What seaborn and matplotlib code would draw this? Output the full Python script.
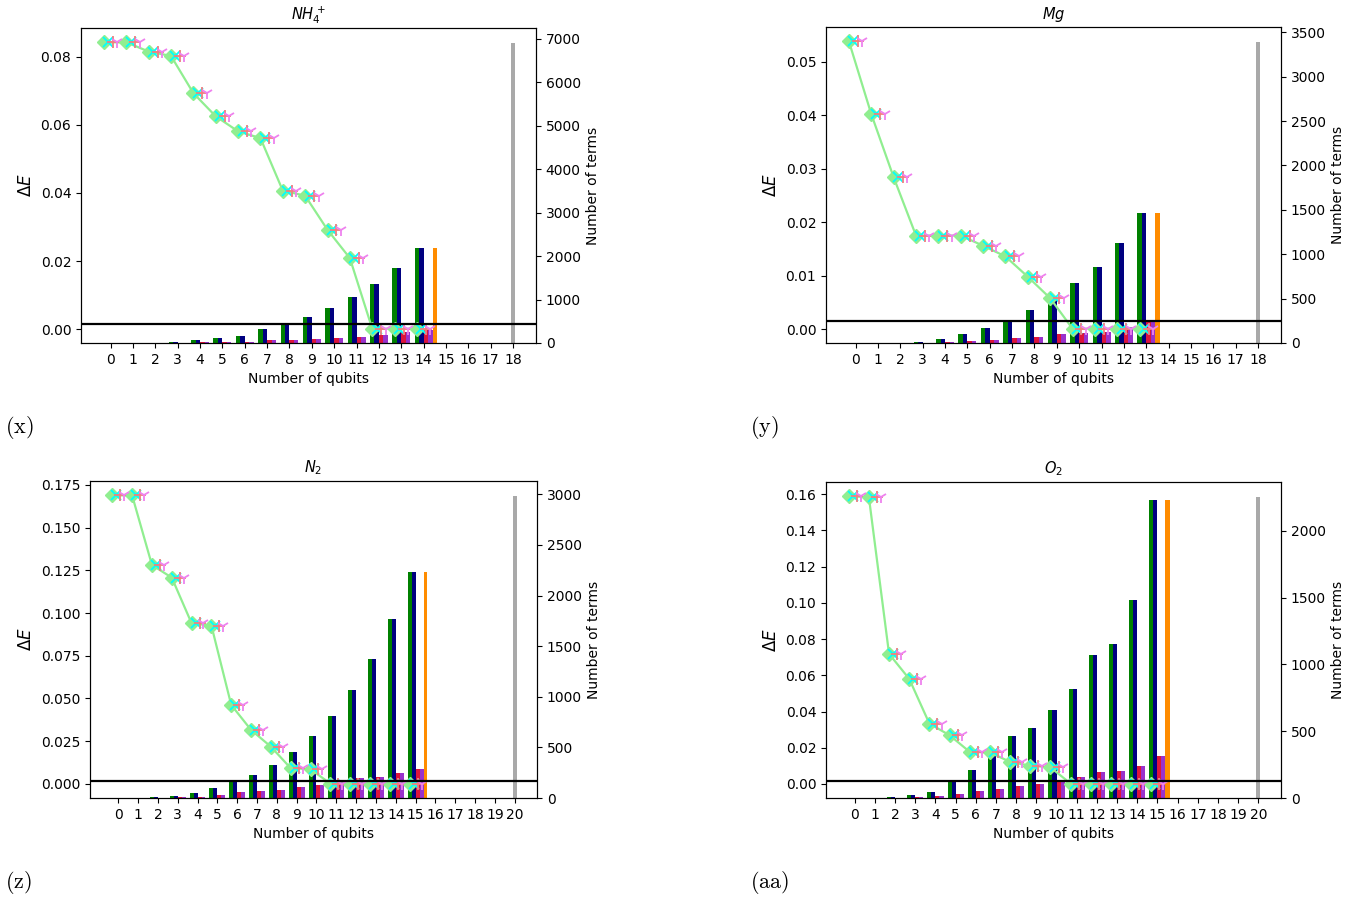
import numpy as np
import matplotlib
matplotlib.use("Agg")
import matplotlib.pyplot as plt
import seaborn as sns

# ---------------- data ----------------
nh4_dE = [0.0842, 0.0842, 0.0815, 0.0802, 0.0693, 0.0625, 0.0581, 0.0561,
          0.0407, 0.0392, 0.0292, 0.0209, 0.0002, 0.0002, 0.0002]
nh4_green = [1, 4, 10, 30, 69, 122, 168, 313, 460, 604, 803, 1047, 1354, 1735, 2187]
nh4_navy = [1, 4, 10, 30, 69, 122, 168, 313, 460, 604, 803, 1047, 1354, 1735, 2187]
nh4_crimson = [0, 0, 2, 6, 15, 30, 30, 60, 76, 92, 115, 138, 184, 260, 300]
nh4_orchid = [0, 0, 2, 6, 15, 30, 30, 60, 76, 92, 115, 138, 184, 260, 295]
nh4_orange = 2187
nh4_full = 6899
nh4_nq = 18

mg_dE = [0.0538, 0.0402, 0.0284, 0.0175, 0.0175, 0.0175, 0.0156, 0.0136,
         0.0098, 0.0058, 0.0001, 0.0001, 0.0001, 0.0001]
mg_green = [1, 2, 5, 11, 49, 101, 169, 259, 375, 484, 671, 859, 1129, 1466]
mg_navy = [1, 2, 5, 11, 49, 101, 169, 259, 375, 484, 671, 859, 1129, 1466]
mg_crimson = [0, 0, 1, 3, 11, 26, 37, 56, 67, 97, 109, 127, 183, 236]
mg_orchid = [0, 0, 1, 3, 11, 26, 37, 56, 67, 97, 109, 127, 183, 236]
mg_orange = 1466
mg_full = 3390
mg_nq = 18

n2_dE = [0.1688, 0.1688, 0.1281, 0.1207, 0.0940, 0.0926, 0.0462, 0.0316,
         0.0218, 0.0092, 0.0086, 0.0002, 0.0002, 0.0002, 0.0002, 0.0002]
n2_green = [1, 2, 7, 20, 46, 95, 164, 230, 329, 451, 612, 813, 1066, 1375, 1767, 2234]
n2_navy = [1, 2, 7, 20, 46, 95, 164, 230, 329, 451, 612, 813, 1066, 1375, 1767, 2234]
n2_crimson = [0, 0, 2, 5, 13, 30, 56, 66, 82, 108, 125, 154, 194, 204, 250, 289]
n2_orchid = [0, 0, 2, 5, 13, 30, 56, 66, 82, 108, 125, 154, 194, 204, 250, 289]
n2_orange = 2234
n2_full = 2983
n2_nq = 20

o2_dE = [0.1587, 0.1583, 0.0718, 0.0580, 0.0333, 0.0269, 0.0177, 0.0174,
         0.0122, 0.0101, 0.0092, 0.0002, 0.0002, 0.0002, 0.0002, 0.0002]
o2_green = [1, 2, 7, 22, 45, 130, 212, 311, 466, 526, 660, 815, 1069, 1154, 1482, 2229]
o2_navy = [1, 2, 7, 22, 45, 130, 212, 311, 466, 526, 660, 815, 1069, 1154, 1482, 2229]
o2_crimson = [0, 0, 2, 5, 15, 32, 50, 70, 92, 105, 130, 157, 192, 204, 237, 316]
o2_orchid = [0, 0, 2, 5, 15, 32, 50, 70, 92, 105, 130, 157, 192, 204, 237, 316]
o2_orange = 2229
o2_full = 2254
o2_nq = 20

chem_acc = 0.0016

titles = [r"$NH_4^+$", r"$Mg$", r"$N_2$", r"$O_2$"]
captions = ["(x)", "(y)", "(z)", "(aa)"]

# ---------------- figure ----------------
W, H = 1372, 901
fig = plt.figure(figsize=(W / 100, H / 100), dpi=100)


def rect(l, r, t, b):
    return [l / W, 1 - b / H, (r - l) / W, (b - t) / H]


panels = [
    (rect(81, 536, 28, 343), nh4_dE, nh4_green, nh4_navy, nh4_crimson, nh4_orchid,
     nh4_orange, nh4_full, nh4_nq),
    (rect(826, 1281, 27, 343), mg_dE, mg_green, mg_navy, mg_crimson, mg_orchid,
     mg_orange, mg_full, mg_nq),
    (rect(90, 537, 481, 798), n2_dE, n2_green, n2_navy, n2_crimson, n2_orchid,
     n2_orange, n2_full, n2_nq),
    (rect(826, 1281, 482, 798), o2_dE, o2_green, o2_navy, o2_crimson, o2_orchid,
     o2_orange, o2_full, o2_nq),
]

w = 0.2
for k, (r, dE, g, nv, cr, orc, orng, full, nq) in enumerate(panels):
    ax = fig.add_axes(r)
    ax2 = ax.twinx()
    q = np.arange(len(dE))

    ax2.bar(q - 0.3, g, w, color="green")
    ax2.bar(q - 0.1, nv, w, color="navy")
    ax2.bar(q + 0.1, cr, w, color="crimson")
    ax2.bar(q + 0.3, orc, w, color="darkorchid")
    ax2.bar([q[-1] + 0.5], [orng], w, color="darkorange")
    ax2.bar([nq], [full], w, color="darkgray")

    dE = np.array(dE)
    sns.lineplot(x=q - 0.3, y=dE, ax=ax, color="lightgreen", marker="D",
                 markersize=7, markeredgecolor="lightgreen", markeredgewidth=1,
                 linewidth=1.6, errorbar=None, sort=False)
    sns.lineplot(x=q - 0.1, y=dE, ax=ax, color="cyan", marker="x", linestyle="",
                 markersize=7, markeredgecolor="cyan", markeredgewidth=1.3,
                 errorbar=None, sort=False)
    sns.lineplot(x=q + 0.1, y=dE, ax=ax, color="lightcoral", marker="+", linestyle="",
                 markersize=8, markeredgecolor="lightcoral", markeredgewidth=1.3,
                 errorbar=None, sort=False)
    sns.lineplot(x=q + 0.3, y=dE, ax=ax, color="violet", marker="1", linestyle="",
                 markersize=9, markeredgecolor="violet", markeredgewidth=1.3,
                 errorbar=None, sort=False)
    ax.axhline(chem_acc, color="black", linewidth=1.6)

    ax.set_zorder(ax2.get_zorder() + 1)
    ax.patch.set_visible(False)

    ax.set_xticks(range(nq + 1))
    ax.set_xlabel("Number of qubits", fontsize=10)
    ax.set_ylabel(r"$\Delta E$", fontsize=12)
    ax2.set_ylabel("Number of terms", fontsize=10)
    ax.set_title(titles[k], fontsize=10.5)
    ax.tick_params(labelsize=10)
    ax2.tick_params(labelsize=10)

cap_pos = [(5, 428), (750, 428), (5, 883), (750, 883)]
for (cx, cy), c in zip(cap_pos, captions):
    fig.text(cx / W, 1 - cy / H, r"$\mathrm{" + c + "}$", fontsize=16,
             math_fontfamily="cm", ha="left", va="center")

fig.savefig("out.png", dpi=100)
